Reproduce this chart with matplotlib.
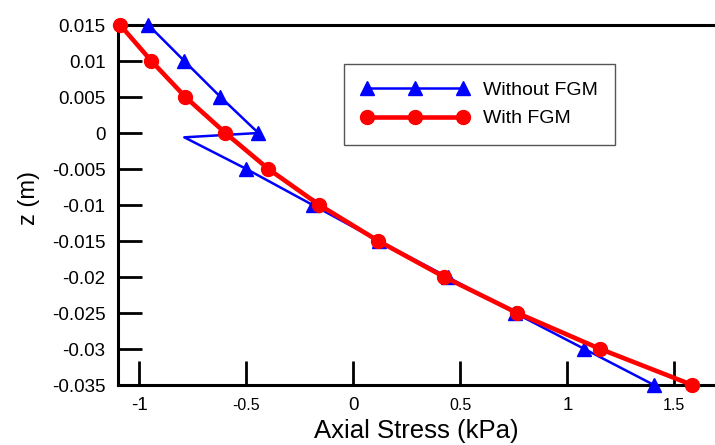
import matplotlib
matplotlib.use("Agg")
import matplotlib.pyplot as plt

# depth through the layer (m)
z_fgm = [0.015, 0.01, 0.005, 0.0, -0.005, -0.01, -0.015, -0.02, -0.025, -0.03, -0.035]
stress_fgm = [-1.09, -0.944, -0.785, -0.598, -0.397, -0.159, 0.117, 0.425, 0.766, 1.154, 1.584]

# homogeneous case has a jump near the interface (extra point without marker)
z_hom = [0.015, 0.01, 0.005, 0.0, -0.0006, -0.005, -0.01, -0.015, -0.02, -0.025, -0.03, -0.035]
stress_hom = [-0.958, -0.79, -0.621, -0.444, -0.79, -0.5, -0.19, 0.12, 0.44, 0.755, 1.08, 1.405]
hom_marked = [0, 1, 2, 3, 5, 6, 7, 8, 9, 10, 11]

x_ticks = [-1, -0.5, 0, 0.5, 1, 1.5]
x_tick_labels = ["-1", "-0.5", "0", "0.5", "1", "1.5"]
y_ticks = [0.015, 0.01, 0.005, 0, -0.005, -0.01, -0.015, -0.02, -0.025, -0.03, -0.035]
y_tick_labels = ["0.015", "0.01", "0.005", "0", "-0.005", "-0.01", "-0.015",
                 "-0.02", "-0.025", "-0.03", "-0.035"]

plt.rcParams["font.family"] = ["Liberation Sans", "DejaVu Sans"]

fig = plt.figure(figsize=(7.15, 4.45), dpi=100)
ax = fig.add_axes([118 / 715, 1 - 385 / 445, 1 - 118 / 715, 360 / 445])

ax.plot(stress_hom, z_hom, color="#0000ff", lw=1.8, marker="^", ms=10,
        markevery=hom_marked, label="Without FGM", clip_on=False, zorder=3)
ax.plot(stress_fgm, z_fgm, color="#ff0000", lw=3.3, marker="o", ms=10,
        label="With FGM", clip_on=False, zorder=4)

ax.set_xlim(-1.1, 1.69)
ax.set_ylim(-0.035, 0.015)

ax.set_xticks(x_ticks)
ax.set_xticklabels(x_tick_labels)
for lab, t in zip(ax.get_xticklabels(), x_ticks):
    lab.set_fontsize(13.5 if float(t).is_integer() else 11.5)
ax.set_yticks(y_ticks)
ax.set_yticklabels(y_tick_labels, fontsize=13.5)

ax.tick_params(axis="both", direction="in", length=17, width=2, color="black")
ax.tick_params(axis="x", pad=9)
ax.tick_params(axis="y", pad=9)

for side in ["left", "bottom", "top"]:
    ax.spines[side].set_linewidth(2.2)
ax.spines["right"].set_visible(False)

ax.set_xlabel("Axial Stress (kPa)", fontsize=18.5, labelpad=3)
ax.set_ylabel("z (m)", fontsize=17)
ax.yaxis.set_label_coords(-0.13, 0.52)

leg = ax.legend(loc="upper left", bbox_to_anchor=((344 - 118) / 597, (385 - 64) / 360),
                borderaxespad=0, fontsize=14, handlelength=5.5, numpoints=3,
                fancybox=False, edgecolor="#555555", framealpha=1,
                borderpad=0.9, labelspacing=0.55, handletextpad=0.75)
leg.get_frame().set_linewidth(1.0)

fig.savefig("out.png", dpi=100)
